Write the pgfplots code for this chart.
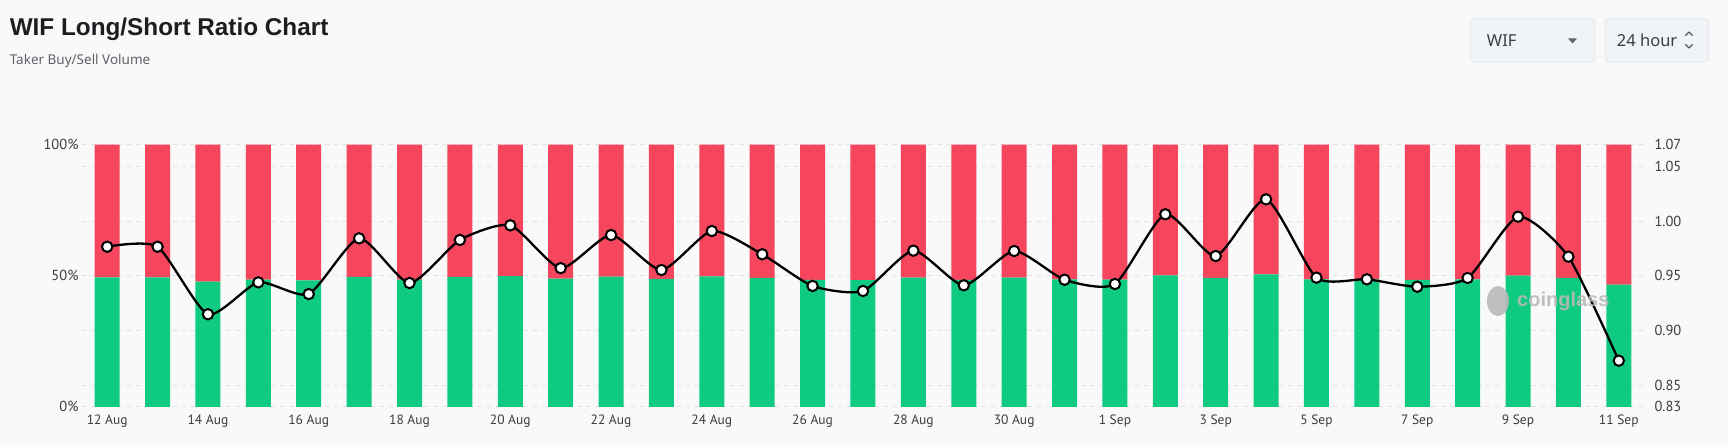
\documentclass[border=0pt]{standalone}
\usepackage{fontspec}
\setmainfont{Noto Sans}
\newfontfamily\ptsans{PT Sans}
\newfontfamily\boldsans{Liberation Sans}[UprightFont=*-Bold]
\usepackage{pgfplots}
\pgfplotsset{compat=1.18}
\usepackage{pgfplotstable}

\definecolor{bg}{HTML}{F9F9F9}
\definecolor{lgreen}{HTML}{0ECB81}
\definecolor{lred}{HTML}{F6465D}
\definecolor{gridc}{HTML}{E4E4E4}
\definecolor{titlec}{HTML}{1B1D21}
\definecolor{subc}{HTML}{5E6269}
\definecolor{tickc}{HTML}{3A3D42}
\definecolor{boxc}{HTML}{F1F4F7}
\definecolor{boxb}{HTML}{E3E7EC}
\definecolor{wmc}{HTML}{B9B9B9}

\pgfplotstableread{
idx long short ratio
0 49.41 50.59 0.9766
1 49.41 50.59 0.9766
2 47.78 52.22 0.9148
3 48.56 51.44 0.9440
4 48.28 51.72 0.9333
5 49.60 50.40 0.9843
6 48.54 51.46 0.9434
7 49.57 50.43 0.9828
8 49.90 50.10 0.9962
9 48.90 51.10 0.9570
10 49.68 50.32 0.9873
11 48.86 51.14 0.9553
12 49.77 50.23 0.9910
13 49.23 50.77 0.9697
14 48.47 51.53 0.9407
15 48.35 51.65 0.9361
16 49.32 50.68 0.9730
17 48.49 51.51 0.9413
18 49.31 50.69 0.9727
19 48.62 51.38 0.9464
20 48.52 51.48 0.9425
21 50.16 49.84 1.0063
22 49.19 50.81 0.9681
23 50.50 49.50 1.0200
24 48.67 51.33 0.9483
25 48.63 51.37 0.9468
26 48.45 51.55 0.9400
27 48.67 51.33 0.9480
28 50.10 49.90 1.0041
29 49.17 50.83 0.9675
30 46.59 53.41 0.8723
}\data

\begin{document}
\begin{tikzpicture}[x=1pt,y=1pt]
\fill[bg] (0,0) rectangle (1728,447);

\begin{axis}[
  at={(82pt,40.1pt)}, anchor=south west,
  scale only axis, width=1562pt, height=262.2pt,
  xmin=-0.5, xmax=30.5, ymin=0, ymax=100,
  ybar stacked, bar width=25pt,
  axis line style={draw=none}, tick style={draw=none},
  ytick={0,8.3333,29.1667,50,70.8333,91.6667,100},
  yticklabels={0\%,,,50\%,,,100\%},
  ymajorgrids,
  major grid style={gridc, dash pattern=on 5pt off 4pt, line width=1pt},
  xtick={0,2,...,30},
  xticklabels={12 Aug,14 Aug,16 Aug,18 Aug,20 Aug,22 Aug,24 Aug,26 Aug,28 Aug,30 Aug,1 Sep,3 Sep,5 Sep,7 Sep,9 Sep,11 Sep},
  xticklabel style={font=\ptsans\fontsize{13.5}{14}\selectfont, text=tickc, yshift=-4pt},
  yticklabel style={font=\ptsans\fontsize{14.5}{15}\selectfont, text=tickc},
]
\addplot[fill=lgreen, draw=none] table[x=idx,y=long]{\data};
\addplot[fill=lred, draw=none] table[x=idx,y=short]{\data};
\end{axis}

\begin{axis}[
  at={(82pt,40.1pt)}, anchor=south west,
  scale only axis, width=1562pt, height=262.2pt,
  xmin=-0.5, xmax=30.5, ymin=0.83, ymax=1.07,
  axis y line*=right, axis x line=none,
  axis line style={draw=none}, tick style={draw=none},
  ytick={0.83,0.85,0.90,0.95,1.00,1.05,1.07},
  yticklabels={0.83,0.85,0.90,0.95,1.00,1.05,1.07},
  yticklabel style={font=\ptsans\fontsize{14.5}{15}\selectfont, text=tickc, xshift=7pt},
]
\addplot[black, line width=2.3pt, smooth, tension=0.38, mark=*, mark size=5.2pt,
  mark options={fill=white, draw=black, line width=2pt}]
  table[x=idx,y=ratio]{\data};
\end{axis}

% header
\node[anchor=base west, inner sep=0, font=\boldsans\fontsize{24.3}{25}\selectfont, text=titlec] at (9.6,411) {WIF Long/Short Ratio Chart};
\node[anchor=base west, inner sep=0, font=\fontsize{13.5}{14}\selectfont, text=subc] at (9.6,382.7) {Taker Buy/Sell Volume};

% selectors
\draw[fill=boxc, draw=boxb, line width=0.8pt, rounded corners=4pt] (1470.7,428.7) rectangle (1594.7,384.7);
\draw[fill=boxc, draw=boxb, line width=0.8pt, rounded corners=4pt] (1605.3,428.7) rectangle (1708.7,384.7);
\node[anchor=base west, inner sep=0, font=\fontsize{16.5}{17}\selectfont, text=tickc] at (1486.7,400.3) {WIF};
\fill[black!60] (1568,408.6) -- (1577,408.6) -- (1572.5,403.6) -- cycle;
\node[anchor=base west, inner sep=0, font=\fontsize{16.5}{17}\selectfont, text=tickc] at (1616.7,400.3) {24 hour};
\draw[black!65, line width=1.2pt, line cap=round, line join=round] (1685.5,411.5) -- (1689,415) -- (1692.5,411.5);
\draw[black!65, line width=1.2pt, line cap=round, line join=round] (1685.5,402.5) -- (1689,399) -- (1692.5,402.5);

% watermark
\fill[wmc, opacity=0.9] (1498,146) ellipse (11 and 15);
\node[anchor=west, inner sep=0, font=\boldsans\fontsize{20}{20}\selectfont, text=wmc, opacity=0.9] at (1517,146) {coinglass};

\pgfresetboundingbox
\path[use as bounding box] (0,0) rectangle (1728,447);
\end{tikzpicture}
\end{document}
